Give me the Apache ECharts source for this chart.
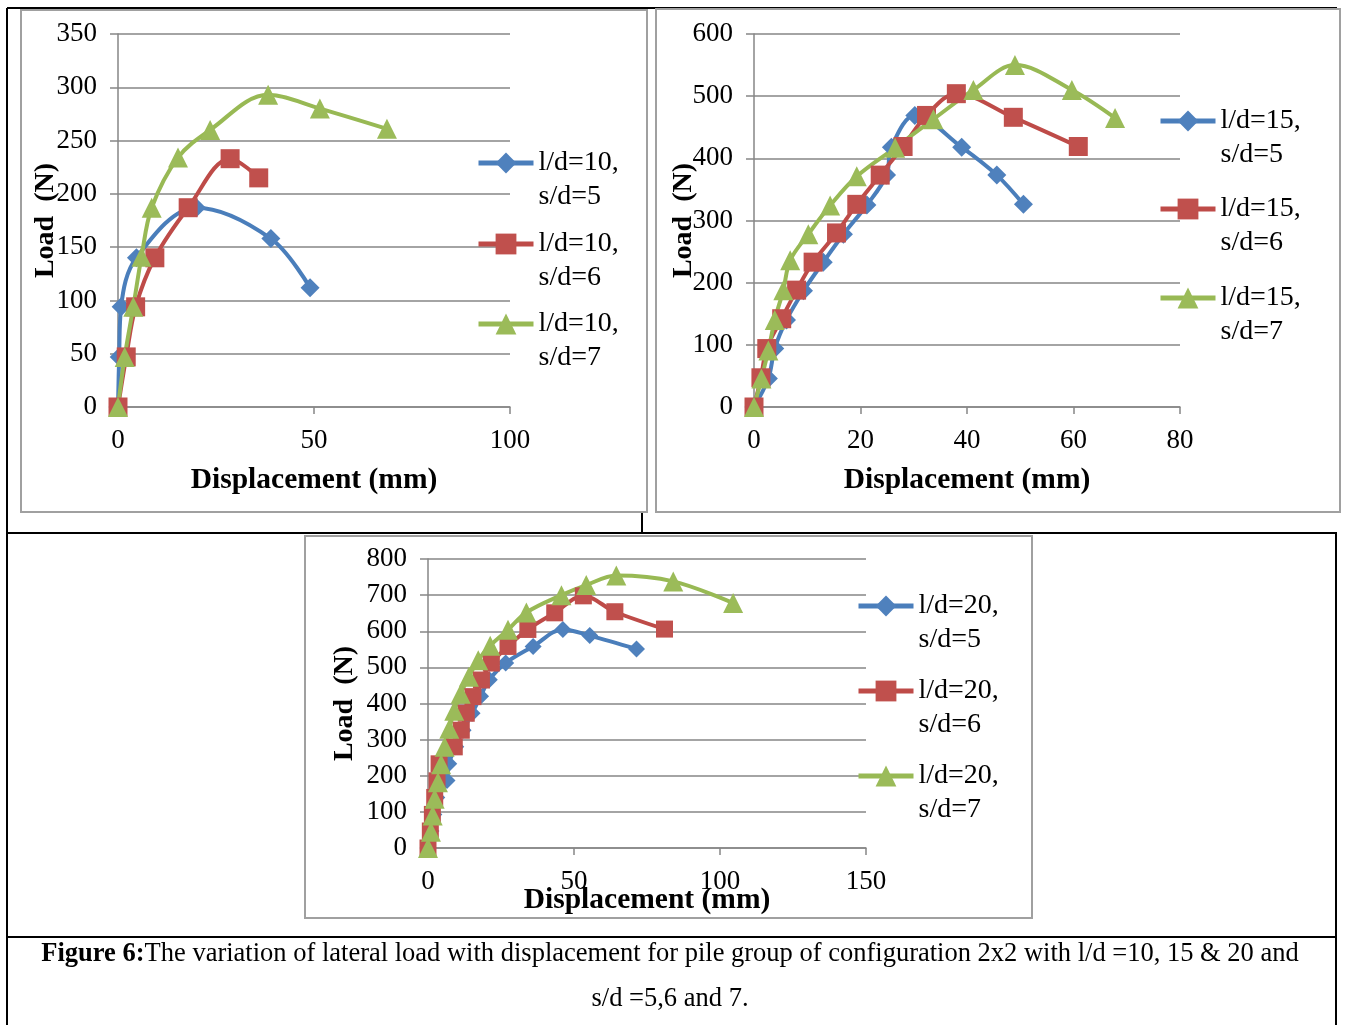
<!DOCTYPE html>
<html>
<head>
<meta charset="utf-8">
<title>Figure 6</title>
<script src="https://cdn.jsdelivr.net/npm/echarts@6/dist/echarts.min.js"></script>
<style>
  html, body { margin: 0; padding: 0; background: #fff; }
  #chart { width: 1347px; height: 1025px; }
</style>
</head>
<body>
<div id="chart"></div>
<script>
// displacement (mm), load (N)
const ld10s5 = [[0, 0], [0.3, 47], [0.8, 94], [4.7, 140], [20, 187], [39, 158], [49, 112]]
const ld10s6 = [[0, 0], [2.1, 47], [4.5, 94], [9.4, 140], [17.9, 187], [28.6, 233], [35.9, 215]]
const ld10s7 = [[0, 0], [1.7, 47], [3.9, 94], [6, 141], [8.6, 187], [15.3, 234], [23.5, 260], [38.3, 293], [51.5, 280], [68.6, 261]]

const ld15s5 = [[0, 0], [2.7, 46], [3.9, 94], [6.1, 140], [9.3, 187], [13, 233], [16.8, 278], [21.2, 325], [24.9, 373], [25.8, 418], [30.2, 469], [39, 418], [45.6, 373], [50.6, 326]]
const ld15s6 = [[0, 0], [1.3, 47], [2.4, 94], [5.2, 142], [8, 188], [11.1, 233], [15.5, 280], [19.3, 326], [23.7, 373], [28, 419], [32.4, 469], [38, 504], [48.7, 466], [60.9, 419]]
const ld15s7 = [[0, 0], [1.4, 46], [2.7, 91], [3.9, 140], [5.5, 188], [6.8, 236], [10.2, 278], [14.3, 324], [19.3, 371], [26.5, 417], [33.7, 463], [41.2, 510], [49, 550], [59.7, 510], [67.8, 465]]

const ld20s5 = [[0, 0], [1, 47], [2, 93], [3, 140], [6.5, 187], [7.1, 233], [9.5, 280], [12, 326], [15.1, 373], [18, 420], [21, 466], [26.6, 512], [36, 558], [46.2, 605], [55.4, 588], [71.4, 551]]
const ld20s6 = [[0, 0], [0.8, 47], [1.5, 93], [2.3, 140], [3.1, 186], [3.8, 233], [9, 280], [11.4, 326], [13.1, 373], [15.4, 419], [18.3, 465], [21.7, 512], [27.4, 558], [34.2, 605], [43.4, 651], [53.2, 698], [64, 654], [81, 606]]
const ld20s7 = [[0, 0], [1, 45], [1.6, 90], [2.3, 136], [3.4, 182], [4.5, 232], [5.7, 280], [7.3, 330], [9, 380], [11.2, 427], [14, 474], [17.2, 520], [21.3, 560], [27.4, 604], [33.7, 652], [45.7, 700], [54.2, 728], [64.5, 754], [84, 738], [104.5, 678]]

const names10 = ['l/d=10, s/d=5', 'l/d=10, s/d=6', 'l/d=10, s/d=7']
const names15 = ['l/d=15, s/d=5', 'l/d=15, s/d=6', 'l/d=15, s/d=7']
const names20 = ['l/d=20, s/d=5', 'l/d=20, s/d=6', 'l/d=20, s/d=7']

const xMax = [100, 80, 150]
const xStep = [50, 20, 50]
const yMax = [350, 600, 800]
const yStep = [50, 100, 100]

const FONT = 'Liberation Serif'
const GRAY = '#868686'
const lineColors = ['#4A7EBB', '#BE4B48', '#98B954']
const markColors = ['#4F81BD', '#C0504D', '#9BBB59']
const symbols = ['diamond', 'rect', 'triangle']

const chart = echarts.init(document.getElementById('chart'))

// grid boxes in page pixels
const grids = [
  { left: 118, top: 34, width: 392, height: 373 },
  { left: 754, top: 34, width: 426, height: 373 },
  { left: 428, top: 559, width: 438, height: 289 }
]
const yNameGap = [58, 56, 69]
const xNameGap = [58, 58, 37]
const xLabelMargin = [20, 20, 20]
const symSizes = [[19, 19, 20], [19, 19, 20], [17, 17, 20]]
// legend: left of line, y of first line for each item
const legendPos = [
  { left: 476, ys: [163, 244, 324] },
  { left: 1158, ys: [121, 209, 298] },
  { left: 856, ys: [606, 691, 776] }
]

const allData = [[ld10s5, ld10s6, ld10s7], [ld15s5, ld15s6, ld15s7], [ld20s5, ld20s6, ld20s7]]
const allNames = [names10, names15, names20]

const xAxis = []
const yAxis = []
const series = []
const legend = []

for (let c = 0; c < 3; c++) {
  xAxis.push({
    type: 'value',
    gridIndex: c,
    min: 0,
    max: xMax[c],
    interval: xStep[c],
    name: 'Displacement (mm)',
    nameLocation: 'middle',
    nameGap: xNameGap[c],
    nameMoveOverlap: false,
    nameTextStyle: { fontFamily: FONT, fontSize: 29.5, fontWeight: 'bold', color: '#000' },
    axisLine: { lineStyle: { color: GRAY, width: 1.5 } },
    axisTick: { show: true, length: 7, lineStyle: { color: GRAY, width: 1.5 } },
    axisLabel: { fontFamily: FONT, fontSize: 27, color: '#000', margin: xLabelMargin[c] },
    splitLine: { show: false }
  })
  yAxis.push({
    type: 'value',
    gridIndex: c,
    min: 0,
    max: yMax[c],
    interval: yStep[c],
    name: 'Load  (N)',
    nameLocation: 'middle',
    nameRotate: 90,
    nameGap: yNameGap[c],
    nameMoveOverlap: false,
    nameTextStyle: { fontFamily: FONT, fontSize: 28, fontWeight: 'bold', color: '#000' },
    axisLine: { show: true, lineStyle: { color: GRAY, width: 1.5 } },
    axisTick: { show: true, length: 8, lineStyle: { color: GRAY, width: 1.5 } },
    axisLabel: { fontFamily: FONT, fontSize: 27, color: '#000', margin: 21 },
    splitLine: { show: true, lineStyle: { color: GRAY, width: 1.5 } }
  })
  for (let s = 0; s < 3; s++) {
    const name = allNames[c][s]
    series.push({
      name: name,
      type: 'line',
      xAxisIndex: c,
      yAxisIndex: c,
      data: allData[c][s],
      smooth: 0.35,
      symbol: symbols[s],
      symbolSize: symSizes[c][s],
      showAllSymbol: true,
      lineStyle: { color: lineColors[s], width: 4 },
      itemStyle: { color: markColors[s] },
      animation: false
    })
    // blank first line keeps the icon level with "l/d=.."
    legend.push({
      data: [name],
      left: legendPos[c].left,
      top: legendPos[c].ys[s] - 51,
      padding: 0,
      itemWidth: 55,
      itemHeight: 26,
      selectedMode: false,
      formatter: n => ' \n' + n.replace(', ', ',\n'),
      lineStyle: { width: 5 },
      textStyle: { fontFamily: FONT, fontSize: 28, lineHeight: 34, color: '#000' }
    })
  }
}

// table rules and chart frames
const black = { stroke: '#000', lineWidth: 2 }
const frame = { fill: '#fff', stroke: '#a0a0a0', lineWidth: 2 }
const graphic = [
  { type: 'line', z: -20, shape: { x1: 7, y1: 8, x2: 1337, y2: 8 }, style: black },
  { type: 'line', z: -20, shape: { x1: 7, y1: 8, x2: 7, y2: 1025 }, style: black },
  { type: 'line', z: -20, shape: { x1: 1336, y1: 533, x2: 1336, y2: 1025 }, style: black },
  { type: 'line', z: -20, shape: { x1: 642, y1: 500, x2: 642, y2: 533 }, style: black },
  { type: 'line', z: -20, shape: { x1: 7, y1: 533, x2: 1337, y2: 533 }, style: black },
  { type: 'line', z: -20, shape: { x1: 7, y1: 937, x2: 1337, y2: 937 }, style: black },
  { type: 'rect', z: -10, shape: { x: 21, y: 10, width: 626, height: 502 }, style: frame },
  { type: 'rect', z: -10, shape: { x: 656, y: 9, width: 684, height: 503 }, style: frame },
  { type: 'rect', z: -10, shape: { x: 305, y: 536, width: 727, height: 382 }, style: frame },
  {
    type: 'text',
    x: 670,
    y: 954,
    style: {
      text: '{b|Figure 6:}{r|The variation of lateral load with displacement for pile group of configuration 2x2 with l/d =10, 15 & 20 and}',
      align: 'center',
      verticalAlign: 'middle',
      rich: {
        b: { fontFamily: FONT, fontSize: 26.5, fontWeight: 'bold', fill: '#000' },
        r: { fontFamily: FONT, fontSize: 26.5, fill: '#000' }
      }
    }
  },
  {
    type: 'text',
    x: 670,
    y: 999,
    style: {
      text: 's/d =5,6 and 7.',
      align: 'center',
      verticalAlign: 'middle',
      fontFamily: FONT,
      fontSize: 26.5,
      fill: '#000'
    }
  }
]

chart.setOption({
  animation: false,
  grid: grids,
  xAxis: xAxis,
  yAxis: yAxis,
  legend: legend,
  series: series,
  graphic: graphic
})
</script>
</body>
</html>
